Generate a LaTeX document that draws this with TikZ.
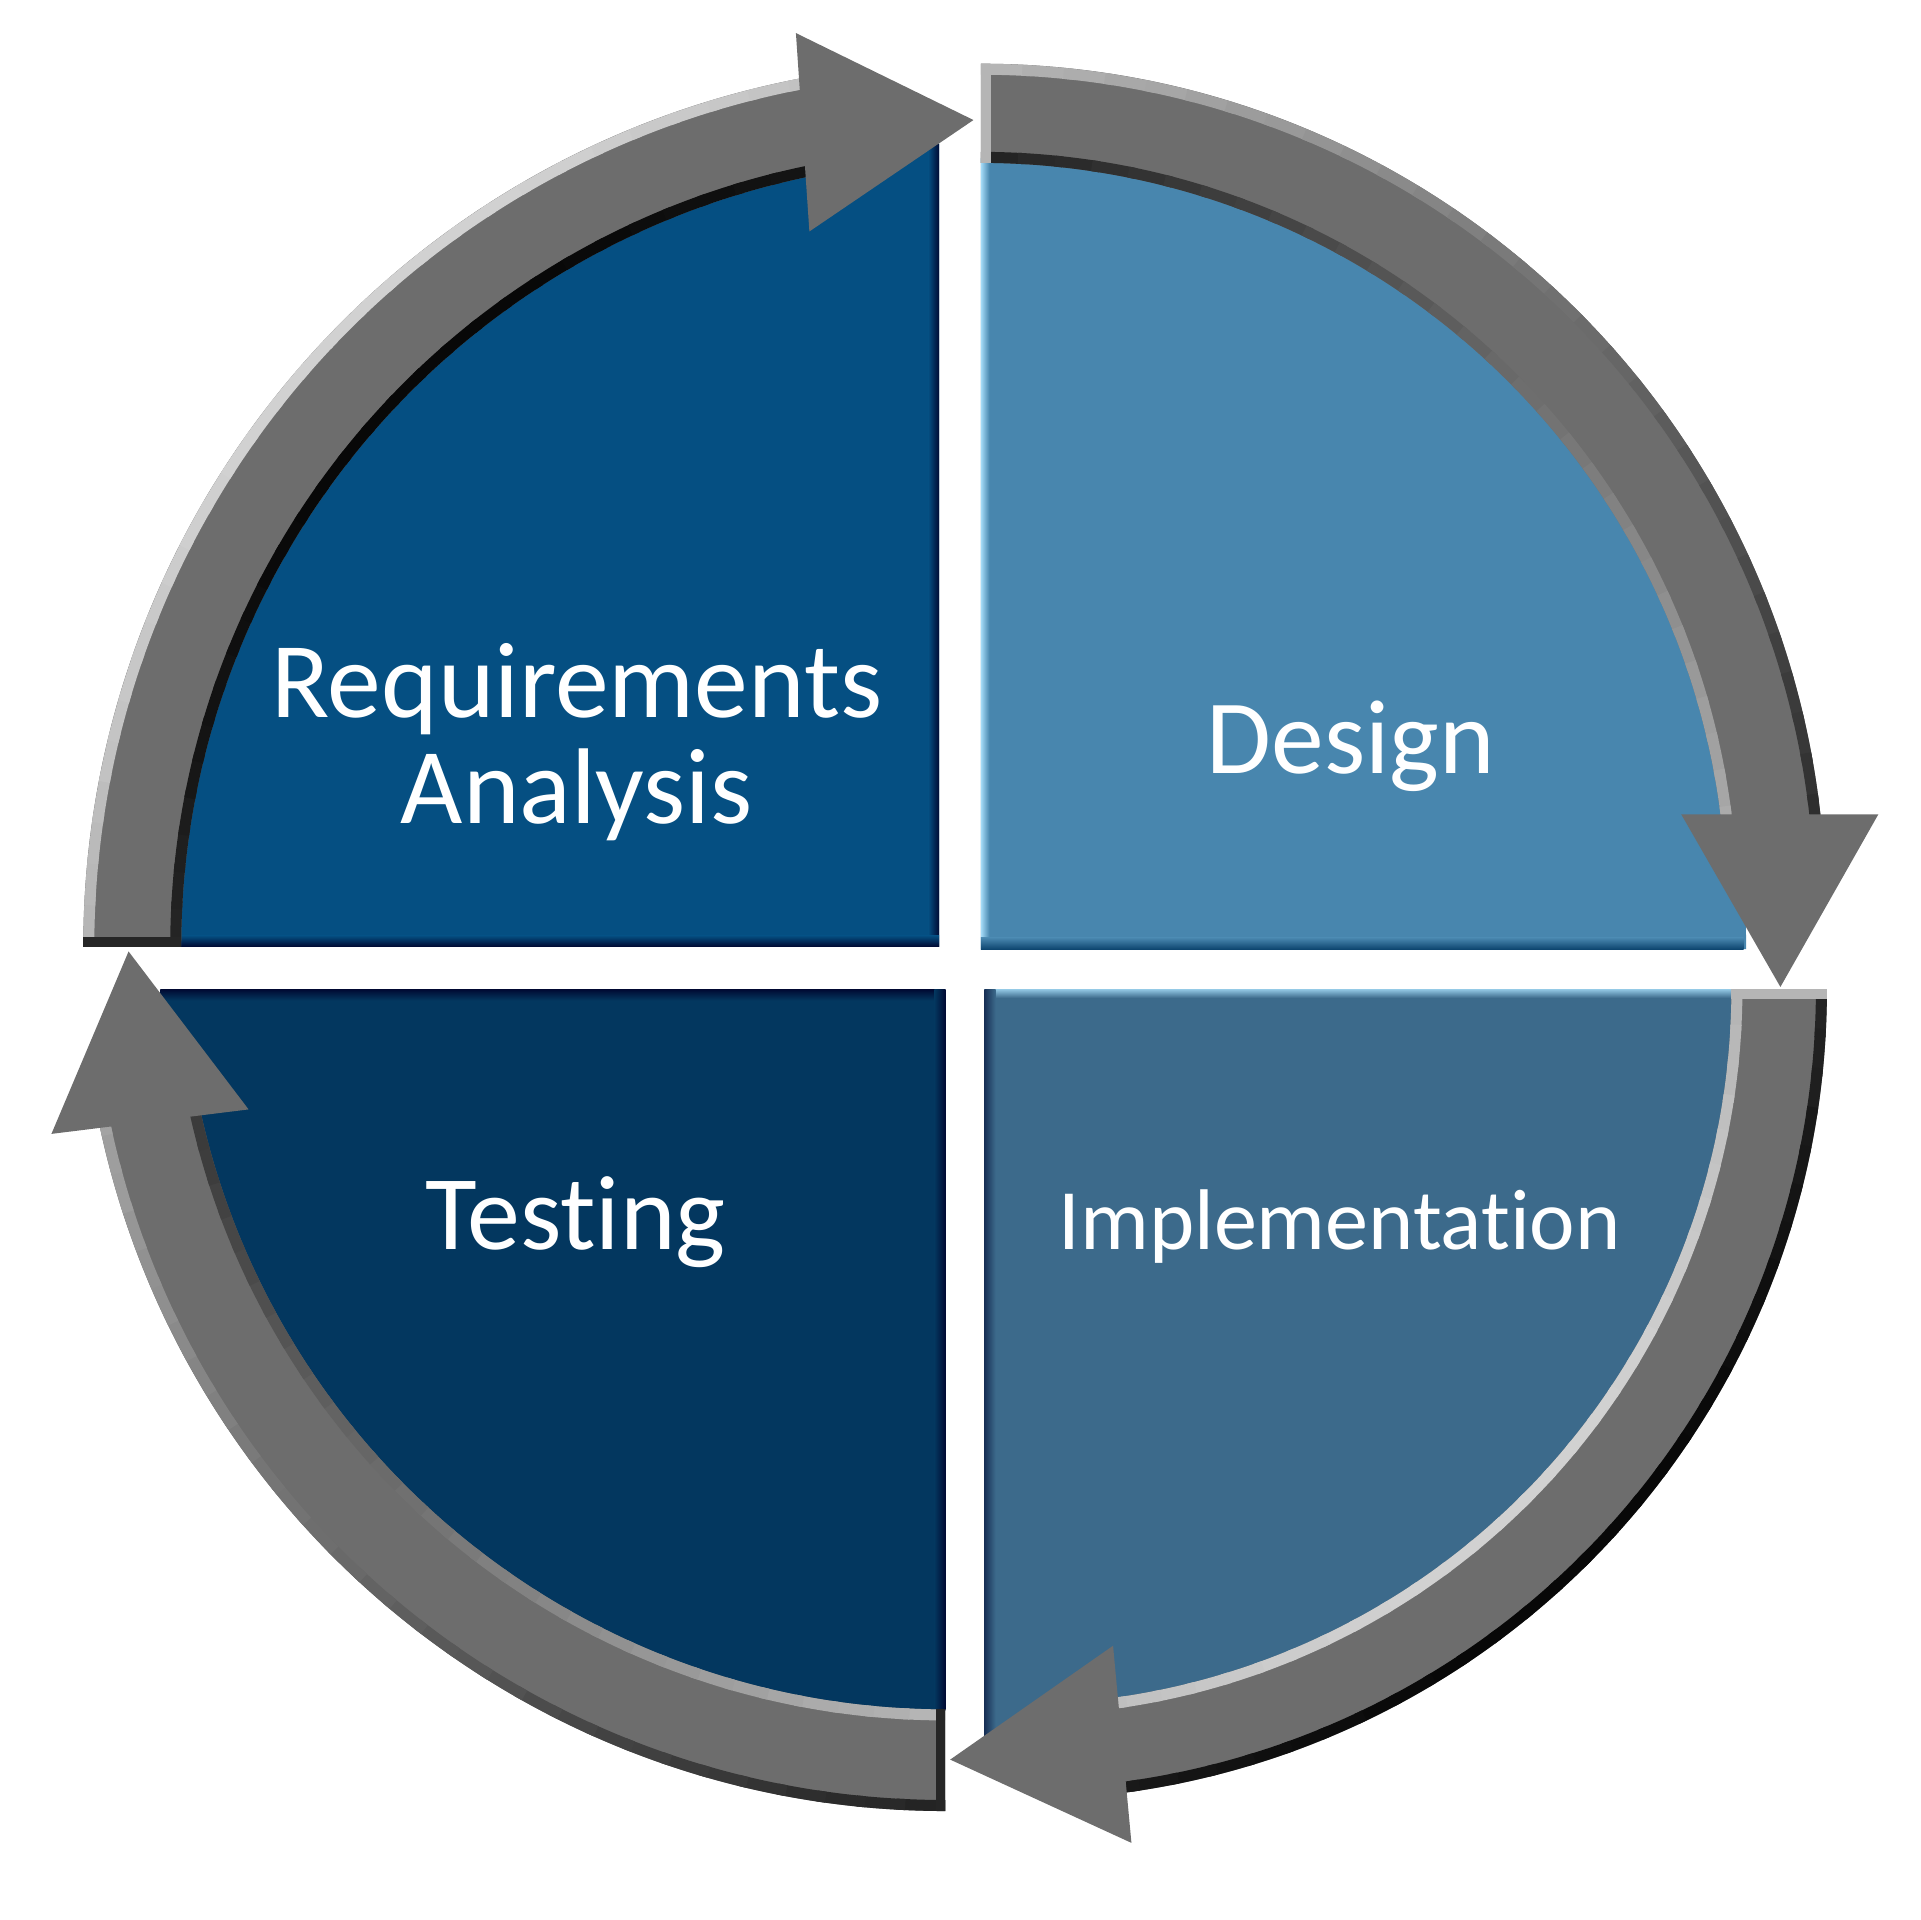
\documentclass[tikz,border=0pt]{standalone}
\usepackage{fontspec}
\setmainfont{Carlito}[Ligatures=NoCommon]
\usetikzlibrary{calc}

\definecolor{reqblue}{HTML}{054F82}
\definecolor{desblue}{HTML}{4886AE}
\definecolor{impblue}{HTML}{3C6A8B}
\definecolor{tstblue}{HTML}{03375F}
\definecolor{ringgray}{HTML}{6D6D6D}
\definecolor{navyedge}{HTML}{000A33}
\definecolor{skyedge}{HTML}{A6DCF8}
\definecolor{steeledge}{HTML}{0E4670}

\tikzset{
  phaselabel/.style={text=white, inner sep=0pt},
  bevel/.style={line width=0.09cm}
}

\begin{document}
\begin{tikzpicture}[x=0.01cm, y=-0.01cm]
    \useasboundingbox (0,0) rectangle (1568,1568);

    % Quarter pies (one per phase)
    \fill[reqblue] (767,773) -- (143,773) arc[start angle=180, end angle=270, x radius=624, y radius=656] -- cycle;
    \fill[desblue] (801,775) -- (801,129) arc[start angle=270, end angle=360, x radius=625, y radius=646] -- cycle;
    \fill[impblue] (804,808) -- (1416,808) arc[start angle=0, end angle=90, x radius=612, y radius=620] -- cycle;
    \fill[tstblue] (772,808) -- (772,1397) arc[start angle=90, end angle=180, x radius=641, y radius=589] -- cycle;

    % Bevelled edges of the pies
    \shade[left color=reqblue, right color=navyedge] (758,118) rectangle (767,773);
    \shade[top color=reqblue, bottom color=navyedge] (148,764) rectangle (767,773);
    \shade[left color=skyedge, right color=desblue] (801,130) rectangle (808,775);
    \shade[top color=desblue, bottom color=steeledge] (801,766) rectangle (1424,775);
    \shade[top color=skyedge!80!impblue, bottom color=impblue] (804,808) rectangle (1414,815);
    \shade[left color=navyedge!60!impblue, right color=impblue] (804,808) rectangle (813,1425);
    \shade[top color=navyedge, bottom color=tstblue] (131,808) rectangle (772,817);
    \shade[left color=tstblue, right color=navyedge] (763,808) rectangle (772,1397);

    % Ring segments: centre x/centre y/outer/inner/start/end
    \foreach \cx/\cy/\ro/\ri/\ta/\tb in {790/773/722/642/180/261, 801/742/690/609/270/355, 830/808/662/584/0/84, 772/773/706/623/90/170} {
        \fill[ringgray] ($(\cx,\cy)+(\ta:\ro)$) arc[start angle=\ta, end angle=\tb, radius=\ro]
            -- ($(\cx,\cy)+(\tb:\ri)$) arc[start angle=\tb, end angle=\ta, radius=\ri] -- cycle;
        \pgfmathsetmacro\rob{\ro-4.5}
        \pgfmathsetmacro\rib{\ri+4.5}
        % light from the upper left: shade both rims piece by piece
        \foreach \k in {0,...,29} {
            \pgfmathsetmacro\t{\ta+(\tb-\ta)*\k/30}
            \pgfmathsetmacro\tn{\t+(\tb-\ta)/30+0.6}
            \pgfmathtruncatemacro\wo{43+40*cos(\t-225)}
            \pgfmathtruncatemacro\wi{43-40*cos(\t-225)}
            \draw[bevel, white!\wo!black] ($(\cx,\cy)+(\t:\rob)$) arc[start angle=\t, end angle=\tn, radius=\rob];
            \draw[bevel, white!\wi!black] ($(\cx,\cy)+(\t:\rib)$) arc[start angle=\t, end angle=\tn, radius=\rib];
        }
    }

    % Flat start faces of the ring segments
    \fill[white!15!black] (68,765) rectangle (148,773);
    \fill[white!71!black] (801,52) rectangle (809,133);
    \fill[white!71!black] (1414,808) rectangle (1492,816);
    \fill[white!15!black] (764,1396) rectangle (772,1479);

    % Arrow heads
    \fill[ringgray] (650,27) -- (795,98) -- (661,189) -- cycle;
    \fill[ringgray] (1373,665) -- (1534,665) -- (1454,806) -- cycle;
    \fill[ringgray] (909,1344) -- (776,1437) -- (924,1505) -- cycle;
    \fill[ringgray] (42,926) -- (105,777) -- (203,906) -- cycle;

    % Phase labels
    \node[phaselabel, font=\fontsize{25}{24.7}\selectfont, align=center] (req) at (471,606) {Requirements\\Analysis};
    \node[phaselabel, font=\fontsize{24.5}{29}\selectfont, anchor=base] (des) at (1103,632) {Design};
    \node[phaselabel, font=\fontsize{20}{24}\selectfont, anchor=base] (imp) at (1094,1020) {Implementation};
    \node[phaselabel, font=\fontsize{24.6}{29}\selectfont, anchor=base] (tst) at (470,1020) {Testing};

\end{tikzpicture}
\end{document}
